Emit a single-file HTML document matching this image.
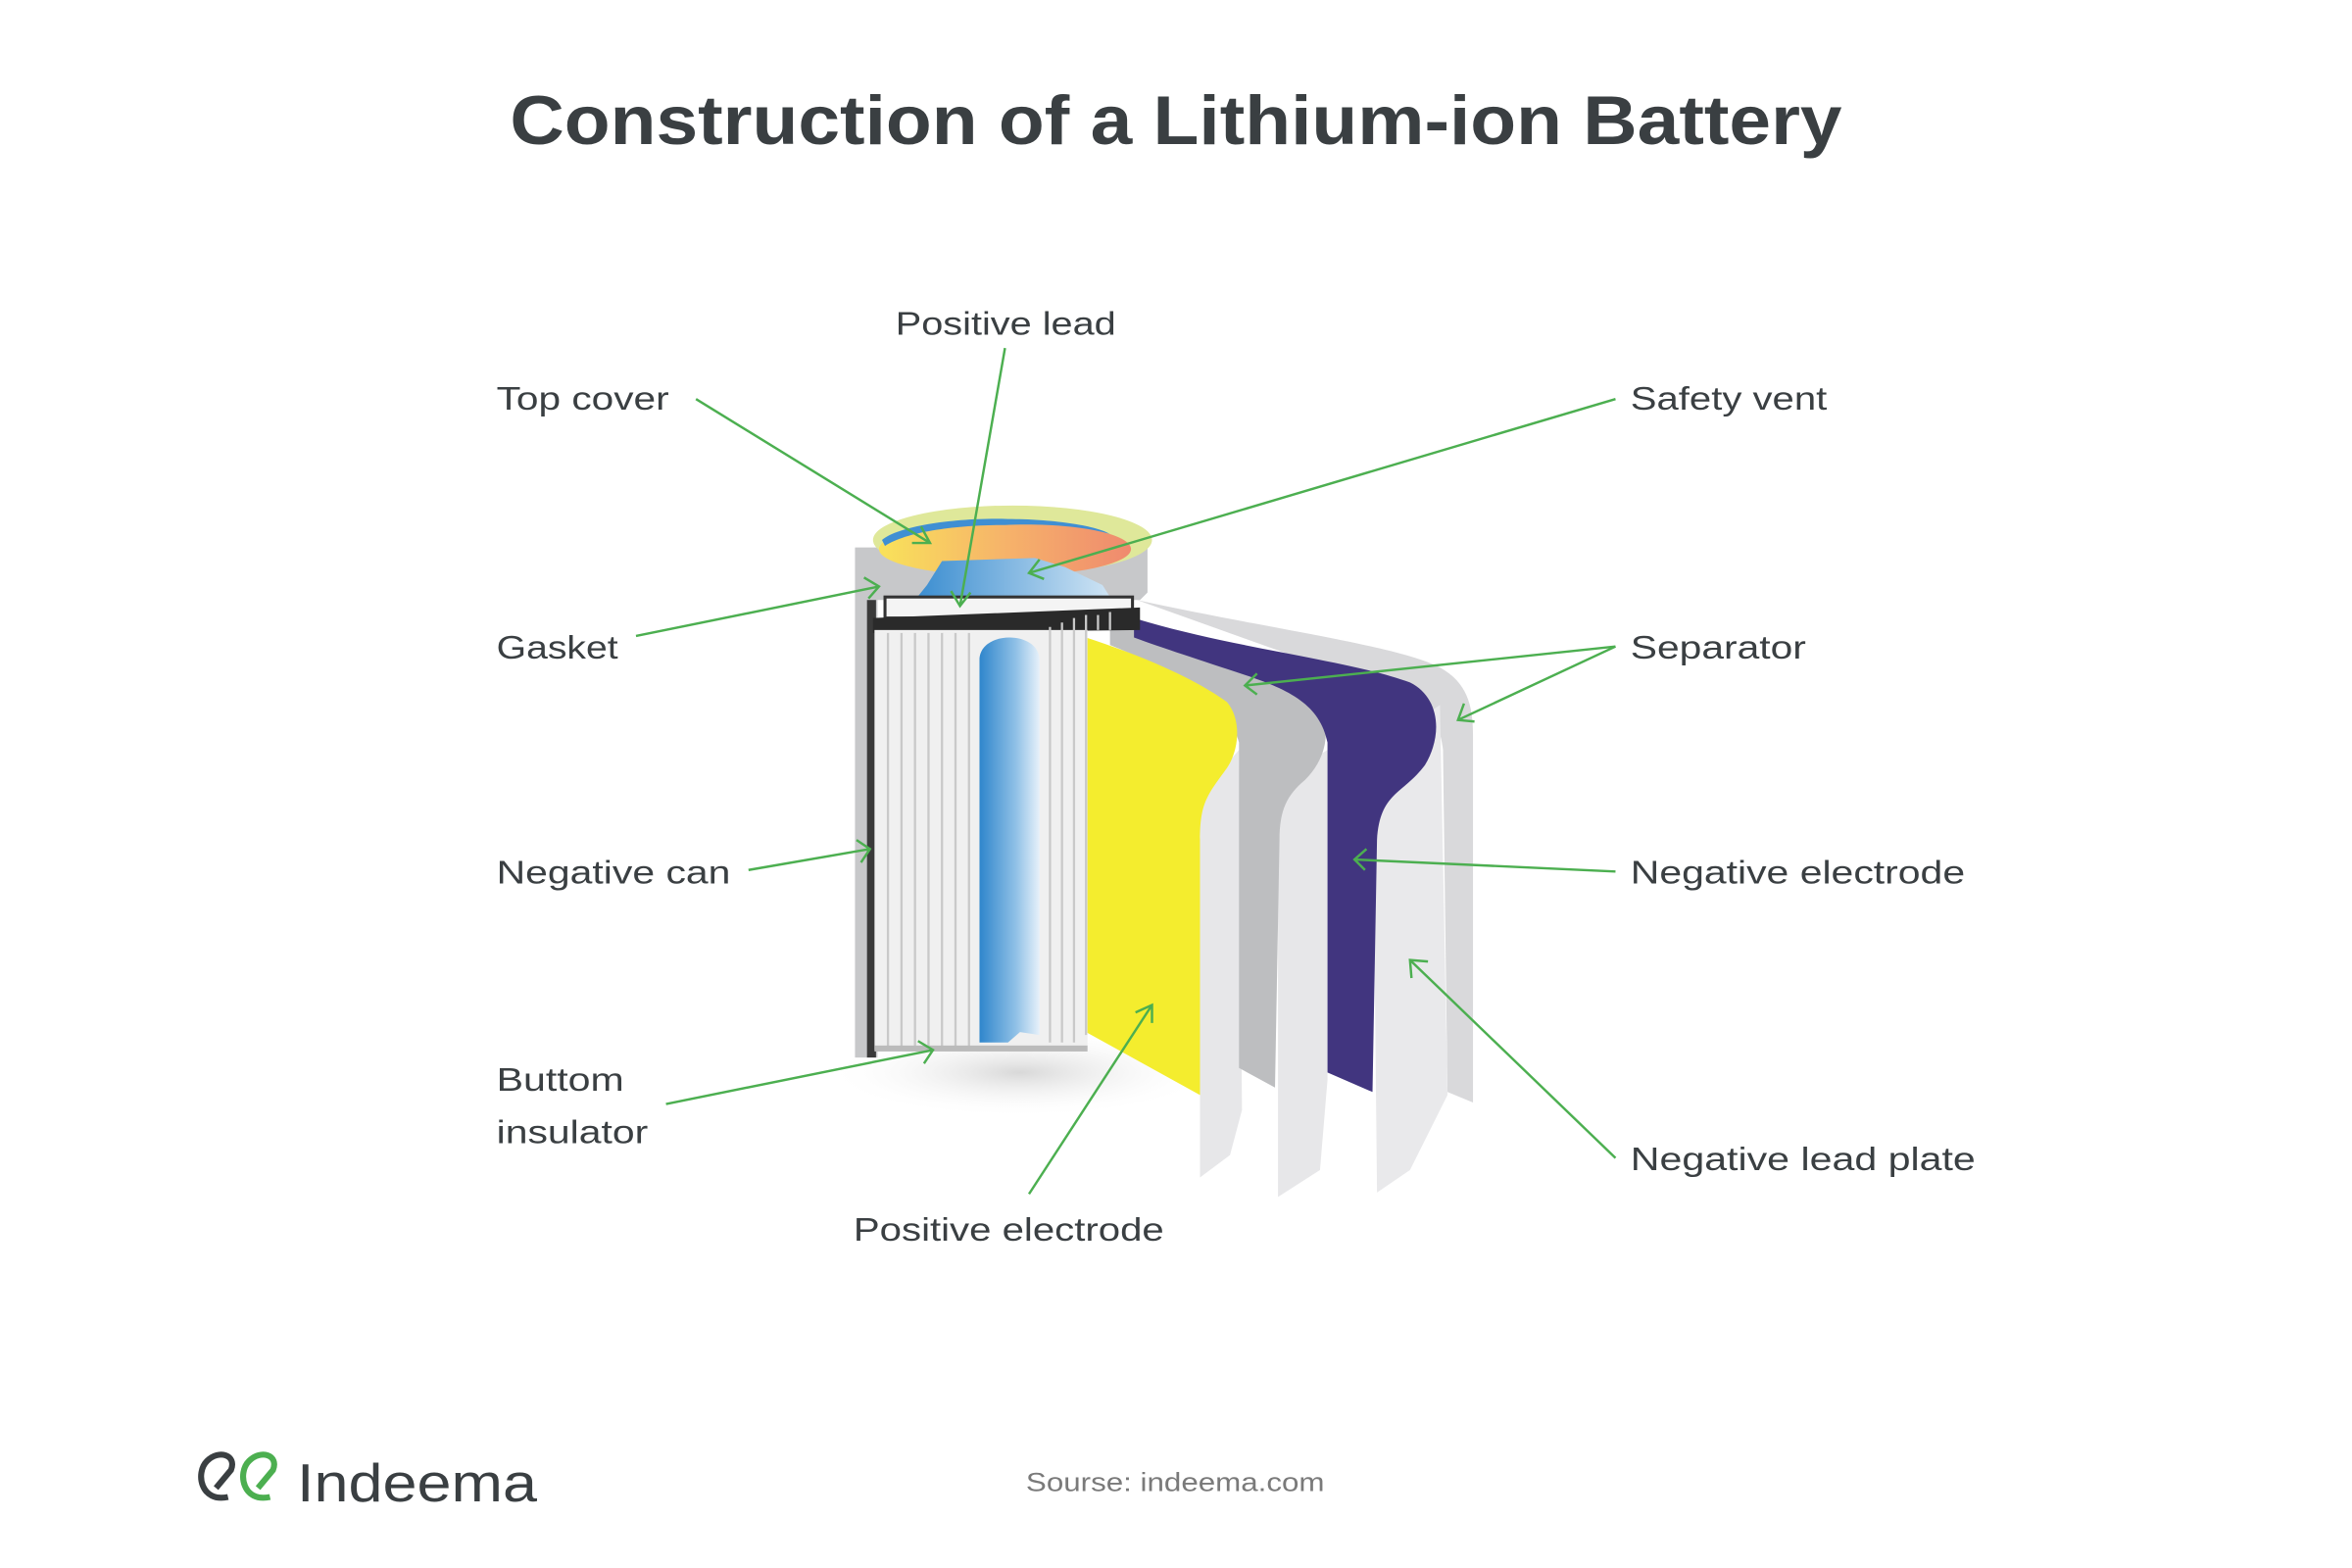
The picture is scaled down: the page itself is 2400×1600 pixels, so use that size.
<!DOCTYPE html>
<html><head><meta charset="utf-8">
<style>
html,body{margin:0;padding:0;background:#fff;}
svg{display:block;}
text{font-family:"Liberation Sans",sans-serif;}
</style></head>
<body>
<svg width="2400" height="1600" viewBox="0 0 1568 1045.33" xmlns="http://www.w3.org/2000/svg">
<defs>
<linearGradient id="topg" x1="0" x2="1"><stop offset="0" stop-color="#f9e25a"/><stop offset="0.5" stop-color="#f6b36a"/><stop offset="1" stop-color="#ef8a6e"/></linearGradient>
<linearGradient id="blueg" x1="0" x2="1"><stop offset="0" stop-color="#2f86cc"/><stop offset="0.6" stop-color="#8fc0e6"/><stop offset="1" stop-color="#e6f1fa"/></linearGradient>
<linearGradient id="capg" x1="0" x2="1"><stop offset="0" stop-color="#3a8dd0"/><stop offset="1" stop-color="#cfe4f4"/></linearGradient>
<radialGradient id="shadow" cx="0.5" cy="0.5" r="0.5"><stop offset="0" stop-color="#d8d8d8"/><stop offset="1" stop-color="#fff" stop-opacity="0"/></radialGradient>
</defs>
<rect width="1568" height="1046" fill="#fff"/>
<text x="340" y="96" font-size="46" font-weight="bold" fill="#3a3f42" textLength="888" lengthAdjust="spacingAndGlyphs">Construction of a Lithium-ion Battery</text>

<ellipse cx="680" cy="715" rx="130" ry="30" fill="url(#shadow)"/>

<path d="M758,400 C850,420 930,430 960,445 C978,455 982,470 982,490 L982,735 L965,728 L962,500 C960,480 950,470 940,465 Z" fill="#d9d9db"/>
<path d="M915,500 L960,470 L965,730 L940,780 L918,795 Z" fill="#e9e9eb"/>
<path d="M852,520 L885,500 L885,720 L880,780 L852,798 Z" fill="#e7e7e9"/>
<path d="M800,530 L826,500 L828,740 L820,770 L800,785 Z" fill="#e7e7e9"/>
<path d="M740,412 C800,430 860,450 878,470 C888,485 885,505 870,520 C858,530 853,540 853,560 L850,725 L826,712 L826,495 C820,470 790,450 740,430 Z" fill="#bdbec0"/>
<path d="M756,412 C820,432 900,440 940,455 C960,465 962,490 950,510 C935,530 920,528 918,560 L915,728 L885,715 L885,495 C880,470 860,460 830,450 C800,440 775,432 756,425 Z" fill="#41357f"/>
<path d="M724,425 C770,440 800,455 818,468 C828,480 826,500 818,512 C805,530 800,535 800,560 L800,730 L724,688 Z" fill="#f4ed2e"/>

<path d="M570,365 L765,365 L765,395 L760,400 L585,400 L585,705 L570,705 Z" fill="#c7c8ca"/>
<rect x="578" y="400" width="6" height="305" fill="#3a3a3a"/>
<ellipse cx="675" cy="360" rx="93" ry="23" fill="#dfe89a"/>
<ellipse cx="670" cy="366" rx="84" ry="18" fill="url(#topg)"/>
<path d="M588,360 C600,350 640,345 672,346 C700,346 730,350 740,356 C720,350 690,349 670,350 C640,350 605,354 590,364 Z" fill="#3f8fd3"/>
<path d="M618,390 L628,374 L690,372 L710,378 L735,390 L740,398 L610,400 Z" fill="url(#capg)"/>
<rect x="590" y="398" width="165" height="14" fill="#f4f4f4" stroke="#333" stroke-width="2"/>
<path d="M582,412 L760,405 L760,420 L582,422 Z" fill="#2a2a2a"/>
<rect x="583" y="420" width="142" height="280" fill="#f0f0f0"/>
<g stroke="#c9c9c9" stroke-width="1.5">
<line x1="592" y1="422" x2="592" y2="700"/><line x1="601" y1="422" x2="601" y2="700"/><line x1="610" y1="422" x2="610" y2="700"/><line x1="619" y1="422" x2="619" y2="700"/><line x1="628" y1="422" x2="628" y2="700"/><line x1="637" y1="422" x2="637" y2="700"/><line x1="646" y1="422" x2="646" y2="700"/>
<line x1="700" y1="418" x2="700" y2="695"/><line x1="708" y1="415" x2="708" y2="695"/><line x1="716" y1="412" x2="716" y2="695"/><line x1="724" y1="410" x2="724" y2="690"/><line x1="732" y1="410" x2="732" y2="420"/><line x1="740" y1="408" x2="740" y2="420"/>
</g>
<path d="M653,440 C653,420 693,420 693,440 L693,690 L680,688 L672,695 L653,695 Z" fill="url(#blueg)"/>
<rect x="583" y="697" width="142" height="4" fill="#bbb"/>

<g stroke="#4caf50" stroke-width="1.6" fill="none">
<line x1="464" y1="266" x2="620" y2="362"/><polyline points="608,362 620,362 614,351"/>
<line x1="670" y1="232" x2="640" y2="404"/><polyline points="634,394 640,404 647,395"/>
<line x1="1077" y1="266" x2="686" y2="382"/><polyline points="693,373 686,382 696,386"/>
<line x1="424" y1="424" x2="586" y2="391"/><polyline points="576,385 586,391 579,399"/>
<line x1="1077" y1="431" x2="830" y2="457"/><polyline points="838,449 830,457 838,463"/>
<line x1="1077" y1="431" x2="972" y2="480"/><polyline points="976,469 972,480 983,481"/>
<line x1="499" y1="580" x2="580" y2="566"/><polyline points="571,560 580,566 574,575"/>
<line x1="1077" y1="581" x2="903" y2="573"/><polyline points="911,566 903,573 910,580"/>
<line x1="444" y1="736" x2="622" y2="700"/><polyline points="612,694 622,700 616,709"/>
<line x1="686" y1="796" x2="768" y2="670"/><polyline points="757,675 768,670 768,682"/>
<line x1="1077" y1="772" x2="940" y2="640"/><polyline points="941,652 940,640 952,641"/>
</g>

<g font-size="22" fill="#3a3f42" lengthAdjust="spacingAndGlyphs">
<text x="597" y="223" textLength="147" lengthAdjust="spacingAndGlyphs">Positive lead</text>
<text x="331" y="273" textLength="115" lengthAdjust="spacingAndGlyphs">Top cover</text>
<text x="1087" y="273" textLength="131" lengthAdjust="spacingAndGlyphs">Safety vent</text>
<text x="331" y="439" textLength="81" lengthAdjust="spacingAndGlyphs">Gasket</text>
<text x="1087" y="439" textLength="117" lengthAdjust="spacingAndGlyphs">Separator</text>
<text x="331" y="589" textLength="156" lengthAdjust="spacingAndGlyphs">Negative can</text>
<text x="1087" y="589" textLength="223" lengthAdjust="spacingAndGlyphs">Negative electrode</text>
<text x="331" y="727" textLength="85" lengthAdjust="spacingAndGlyphs">Buttom</text>
<text x="331" y="762" textLength="101" lengthAdjust="spacingAndGlyphs">insulator</text>
<text x="1087" y="780" textLength="230" lengthAdjust="spacingAndGlyphs">Negative lead plate</text>
<text x="569" y="827" textLength="207" lengthAdjust="spacingAndGlyphs">Positive electrode</text>
</g>

<g fill="none" stroke-width="4">
<path d="M152,998 C134,1002 130,982 138,974 C146,966 158,970 154,980 L144,992" stroke="#3a3f42"/>
<path d="M180,998 C162,1002 158,982 166,974 C174,966 186,970 182,980 L172,992" stroke="#4caf50"/>
</g>
<text x="198" y="1001" font-size="36" fill="#3a3f42" textLength="160" lengthAdjust="spacingAndGlyphs">Indeema</text>
<text x="684" y="994" font-size="17.5" fill="#7a7a7a" textLength="199" lengthAdjust="spacingAndGlyphs">Sourse: indeema.com</text>
</svg>
</body></html>
